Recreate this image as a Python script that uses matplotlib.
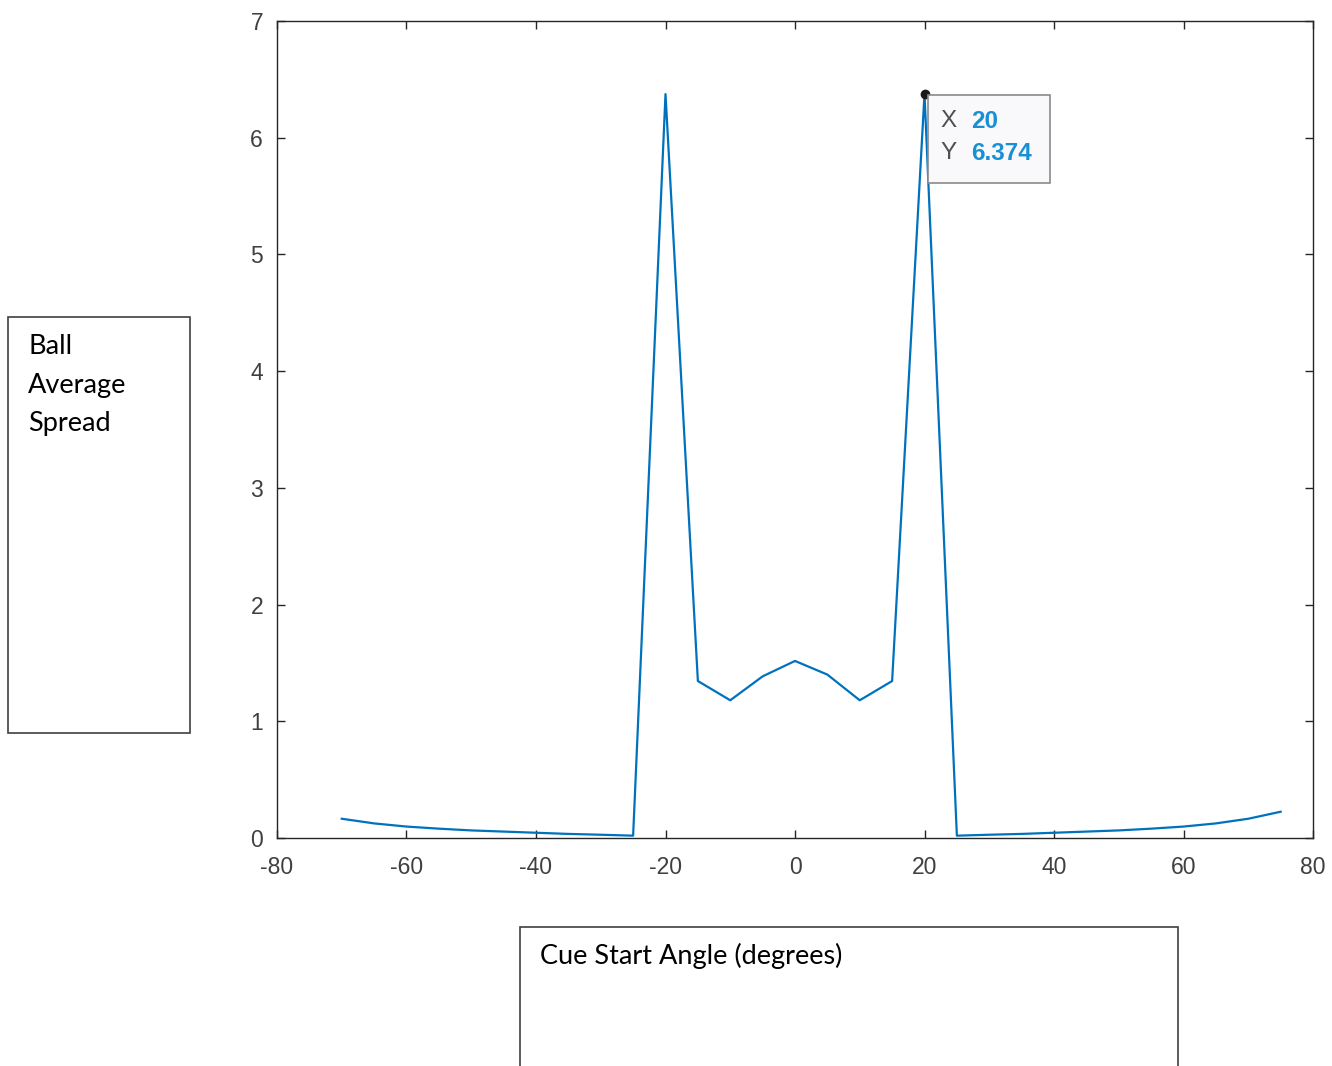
import numpy as np
import matplotlib.pyplot as plt
from matplotlib.patches import Rectangle

plt.rcParams['axes.unicode_minus'] = False

# cue start angle (degrees) vs ball average spread
angle = [-70, -65, -60, -55, -50, -45, -40, -35, -30, -25, -20, -15, -10, -5, 0,
         5, 10, 15, 20, 25, 30, 35, 40, 45, 50, 55, 60, 65, 70, 75]
spread = [0.165, 0.125, 0.098, 0.080, 0.065, 0.055, 0.045, 0.035, 0.028, 0.020,
          6.374, 1.345, 1.180, 1.385, 1.517, 1.400, 1.180, 1.345, 6.374, 0.020,
          0.028, 0.035, 0.045, 0.055, 0.065, 0.080, 0.098, 0.125, 0.165, 0.225]

xticks = [-80, -60, -40, -20, 0, 20, 40, 60, 80]
yticks = [0, 1, 2, 3, 4, 5, 6, 7]

tip_x = 20
tip_y = 6.374

ylabel_lines = ['Ball', 'Average', 'Spread']
xlabel_text = 'Cue Start Angle (degrees)'

W, H = 1332, 1066
fig = plt.figure(figsize=(W / 100, H / 100), dpi=100)
ax = fig.add_axes([277 / W, 1 - 838 / H, (1313 - 277) / W, (838 - 21) / H])

ax.plot(angle, spread, color='#0072BD', lw=1.6)
ax.set_xlim(-80, 80)
ax.set_ylim(0, 7)
ax.set_xticks(xticks)
ax.set_yticks(yticks)
ax.tick_params(direction='in', length=6, width=1.0, top=True, right=True,
               colors='#262626', labelcolor='#404040', labelsize=16.5)
ax.tick_params(axis='x', pad=13)
ax.tick_params(axis='y', pad=10)
for lab in ax.get_xticklabels() + ax.get_yticklabels():
    lab.set_fontfamily('Liberation Sans')
for s in ax.spines.values():
    s.set_color('#262626')
    s.set_linewidth(1.0)

# data tip
ax.plot([tip_x], [tip_y], 'o', color='#1a1a1a', ms=6, zorder=5)
px, py = ax.transData.transform((tip_x, tip_y))
tipbox = Rectangle((px + 3, py - 89), 122, 88, transform=None,
                   facecolor='#f9f9fc', edgecolor='#8a8a8a', lw=1.2, zorder=6)
fig.patches.append(tipbox)
fig.text((px + 16) / W, (py - 27) / H, 'X', color='#505050', fontsize=17.5,
         family='Liberation Sans', va='center', zorder=7)
fig.text((px + 47) / W, (py - 27) / H, str(tip_x), color='#1b8fd4', fontsize=17.5,
         family='Liberation Sans', weight='bold', va='center', zorder=7)
fig.text((px + 16) / W, (py - 59) / H, 'Y', color='#505050', fontsize=17.5,
         family='Liberation Sans', va='center', zorder=7)
fig.text((px + 47) / W, (py - 59) / H, f'{tip_y:.3f}', color='#1b8fd4', fontsize=17.5,
         family='Liberation Sans', weight='bold', va='center', zorder=7)

# text boxes used as axis labels
fig.patches.append(Rectangle((8 / W, 1 - 733 / H), 182 / W, 416 / H, transform=fig.transFigure,
                             facecolor='white', edgecolor='#404040', lw=1.2))
for i, line in enumerate(ylabel_lines):
    fig.text(28 / W, 1 - (346 + 39 * i) / H, line, fontsize=19.5, family='Lato',
             va='center', ha='left', color='black')

fig.patches.append(Rectangle((520 / W, 1 - 1080 / H), 658 / W, 153 / H, transform=fig.transFigure,
                             facecolor='white', edgecolor='#404040', lw=1.2))
fig.text(540 / W, 1 - 956 / H, xlabel_text, fontsize=19.5, family='Lato',
         va='center', ha='left', color='black')

fig.savefig('out.png', dpi=100)
